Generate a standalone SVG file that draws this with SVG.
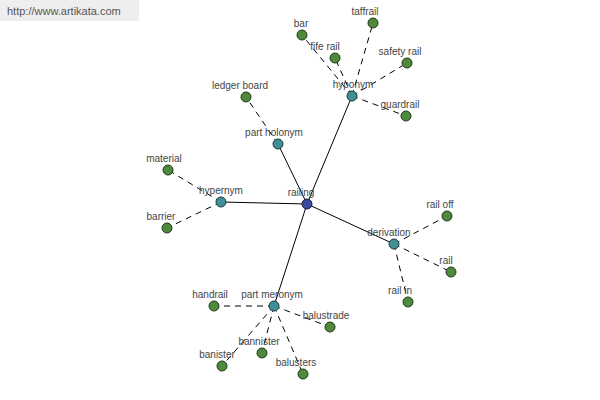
<svg xmlns="http://www.w3.org/2000/svg" width="600" height="400" viewBox="0 0 600 400">
<style>
.bg{fill:#ffffff}
.wm{fill:#eeeeee}
.wmt{font-family:"Liberation Sans",Arial,sans-serif;font-size:11px;fill:#555555}
.lbl{font-family:"Liberation Sans",Arial,sans-serif;font-size:10px;fill:#444444;text-anchor:middle}
.solid{stroke:#000000;stroke-width:1;fill:none}
.dash{stroke:#000000;stroke-width:1;fill:none;stroke-dasharray:6,5}
.root{fill:#3b4a9c;stroke:#1a1a3a;stroke-width:1}
.mid{fill:#3f9096;stroke:#1e3a3c;stroke-width:1}
.leaf{fill:#4e8a3e;stroke:#1f3a18;stroke-width:1}
</style>
<rect class="bg" x="0" y="0" width="600" height="400"/>
<rect class="wm" x="0" y="0" width="139" height="21"/>
<text class="wmt" x="7" y="15">http://www.artikata.com</text>
<g id="connectors">
<line class="solid" x1="307" y1="204" x2="352" y2="96"/>
<line class="solid" x1="307" y1="204" x2="278" y2="144"/>
<line class="solid" x1="307" y1="204" x2="221" y2="202"/>
<line class="solid" x1="307" y1="204" x2="394" y2="244"/>
<line class="solid" x1="307" y1="204" x2="274" y2="306"/>
<line class="dash" x1="352" y1="96" x2="373" y2="23"/>
<line class="dash" x1="352" y1="96" x2="302" y2="35"/>
<line class="dash" x1="352" y1="96" x2="335" y2="58"/>
<line class="dash" x1="352" y1="96" x2="407" y2="63"/>
<line class="dash" x1="352" y1="96" x2="406" y2="116"/>
<line class="dash" x1="278" y1="144" x2="246" y2="97"/>
<line class="dash" x1="221" y1="202" x2="168" y2="170"/>
<line class="dash" x1="221" y1="202" x2="167" y2="228"/>
<line class="dash" x1="394" y1="244" x2="447" y2="216"/>
<line class="dash" x1="394" y1="244" x2="451" y2="272"/>
<line class="dash" x1="394" y1="244" x2="408" y2="302"/>
<line class="dash" x1="274" y1="306" x2="214" y2="306"/>
<line class="dash" x1="274" y1="306" x2="330" y2="327"/>
<line class="dash" x1="274" y1="306" x2="262" y2="353"/>
<line class="dash" x1="274" y1="306" x2="222" y2="366"/>
<line class="dash" x1="274" y1="306" x2="303" y2="374"/>
</g>
<g id="railing"><circle class="root" cx="307" cy="204" r="5"/><text class="lbl" x="301" y="196">railing</text></g>
<g id="hyponym"><circle class="mid" cx="352" cy="96" r="5"/><text class="lbl" x="353" y="88">hyponym</text></g>
<g id="part-holonym"><circle class="mid" cx="278" cy="144" r="5"/><text class="lbl" x="274" y="136">part holonym</text></g>
<g id="hypernym"><circle class="mid" cx="221" cy="202" r="5"/><text class="lbl" x="221" y="194">hypernym</text></g>
<g id="derivation"><circle class="mid" cx="394" cy="244" r="5"/><text class="lbl" x="389" y="236">derivation</text></g>
<g id="part-meronym"><circle class="mid" cx="274" cy="306" r="5"/><text class="lbl" x="272" y="298">part meronym</text></g>
<g id="taffrail"><circle class="leaf" cx="373" cy="23" r="5"/><text class="lbl" x="365" y="15">taffrail</text></g>
<g id="bar"><circle class="leaf" cx="302" cy="35" r="5"/><text class="lbl" x="301" y="27">bar</text></g>
<g id="fife-rail"><circle class="leaf" cx="335" cy="58" r="5"/><text class="lbl" x="325" y="50">fife rail</text></g>
<g id="safety-rail"><circle class="leaf" cx="407" cy="63" r="5"/><text class="lbl" x="400" y="55">safety rail</text></g>
<g id="guardrail"><circle class="leaf" cx="406" cy="116" r="5"/><text class="lbl" x="400" y="108">guardrail</text></g>
<g id="ledger-board"><circle class="leaf" cx="246" cy="97" r="5"/><text class="lbl" x="240" y="89">ledger board</text></g>
<g id="material"><circle class="leaf" cx="168" cy="170" r="5"/><text class="lbl" x="164" y="162">material</text></g>
<g id="barrier"><circle class="leaf" cx="167" cy="228" r="5"/><text class="lbl" x="161" y="220">barrier</text></g>
<g id="rail-off"><circle class="leaf" cx="447" cy="216" r="5"/><text class="lbl" x="440" y="208">rail off</text></g>
<g id="rail"><circle class="leaf" cx="451" cy="272" r="5"/><text class="lbl" x="446" y="264">rail</text></g>
<g id="rail-in"><circle class="leaf" cx="408" cy="302" r="5"/><text class="lbl" x="400" y="294">rail in</text></g>
<g id="handrail"><circle class="leaf" cx="214" cy="306" r="5"/><text class="lbl" x="210" y="298">handrail</text></g>
<g id="balustrade"><circle class="leaf" cx="330" cy="327" r="5"/><text class="lbl" x="326" y="319">balustrade</text></g>
<g id="bannister"><circle class="leaf" cx="262" cy="353" r="5"/><text class="lbl" x="259" y="345">bannister</text></g>
<g id="banister"><circle class="leaf" cx="222" cy="366" r="5"/><text class="lbl" x="217" y="358">banister</text></g>
<g id="balusters"><circle class="leaf" cx="303" cy="374" r="5"/><text class="lbl" x="296" y="366">balusters</text></g>
</svg>
